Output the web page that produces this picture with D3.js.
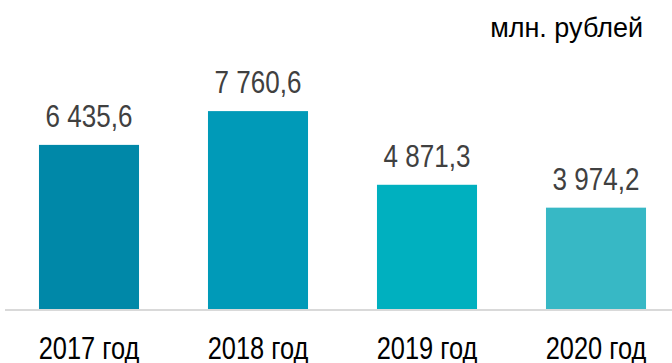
<!DOCTYPE html>
<html>
<head>
<meta charset="utf-8">
<script src="https://cdn.jsdelivr.net/npm/d3@7"></script>
<style>
  html, body { margin: 0; padding: 0; background: #fff; }
  svg { display: block; }
</style>
</head>
<body>
<svg id="chart" width="672" height="363"></svg>
<script>
// Annual totals, млн. рублей
const categories = ["2017 год", "2018 год", "2019 год", "2020 год"];
const values = [6435.6, 7760.6, 4871.3, 3974.2];
const barColors = ["#0088a8", "#009ab8", "#00b0bf", "#37b8c5"];
const unitLabel = "млн. рублей";

const W = 672, H = 363;
const baseY = 309;
const sans = "'Liberation Sans', Arial, sans-serif";
// condensed look for the value and year labels
const squeezeValue = 0.84;
const squeezeYear = 0.82;

const svg = d3.select("#chart");

const x = d3.scaleBand()
  .domain(categories)
  .range([4.5, 680.5])
  .paddingInner(0.408)
  .paddingOuter(0.204);

const y = d3.scaleLinear()
  .domain([0, 8000])
  .range([baseY, 105]);

const fmt = v => d3.format(",.1f")(v).replace(/,/g, " ").replace(".", ",");

// bars
svg.append("g").selectAll("rect")
  .data(values)
  .join("rect")
  .attr("x", (d, i) => x(categories[i]))
  .attr("width", x.bandwidth())
  .attr("y", d => y(d))
  .attr("height", d => y(0) - y(d))
  .attr("fill", (d, i) => barColors[i]);

// baseline
svg.append("line")
  .attr("x1", 5).attr("x2", W)
  .attr("y1", baseY + 1).attr("y2", baseY + 1)
  .attr("stroke", "#d9d9d9")
  .attr("stroke-width", 2);

// value labels
svg.append("g").selectAll("text")
  .data(values)
  .join("text")
  .attr("transform", (d, i) =>
    `translate(${x(categories[i]) + x.bandwidth() / 2},${y(d) - 18}) scale(${squeezeValue},1)`)
  .attr("text-anchor", "middle")
  .attr("font-family", sans)
  .attr("font-size", 31)
  .attr("fill", "#404040")
  .text(d => fmt(d));

// category axis labels
const xAxis = d3.axisBottom(x).tickSize(0).tickPadding(0);
const gx = svg.append("g")
  .attr("transform", `translate(0,${baseY})`)
  .call(xAxis);
gx.select(".domain").remove();
gx.selectAll("text")
  .attr("dy", null)
  .attr("y", null)
  .attr("transform", `translate(0,50) scale(${squeezeYear},1)`)
  .attr("font-family", sans)
  .attr("font-size", 31)
  .attr("fill", "#000");

// unit label
svg.append("text")
  .attr("x", 643)
  .attr("y", 37)
  .attr("text-anchor", "end")
  .attr("font-family", sans)
  .attr("font-size", 27)
  .attr("fill", "#000")
  .text(unitLabel);
</script>
</body>
</html>
